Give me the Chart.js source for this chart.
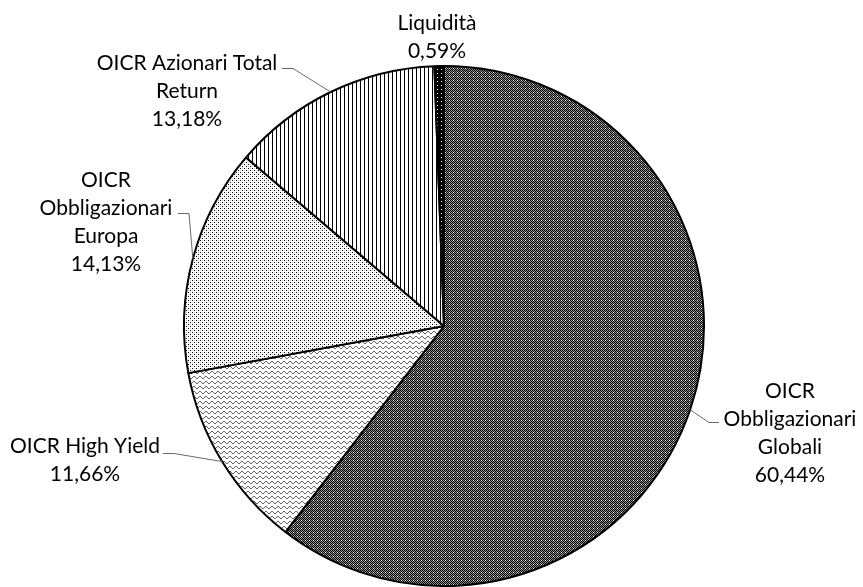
<!DOCTYPE html>
<html>
<head>
<meta charset="utf-8">
<script src="https://cdn.jsdelivr.net/npm/chart.js@4.4.1/dist/chart.umd.min.js"></script>
<style>
  body { margin: 0; background: #fff; }
  #wrap { width: 863px; height: 587px; }
</style>
</head>
<body>
<div id="wrap"><canvas id="myChart" width="863" height="587"></canvas></div>
<script>
// data, clockwise from 12 o'clock
const categories = ['OICR Obbligazionari Globali', 'OICR High Yield', 'OICR Obbligazionari Europa', 'OICR Azionari Total Return', 'Liquidità'];
const values = [60.44, 11.66, 14.13, 13.18, 0.59];
const labelLines = [
  ['OICR', 'Obbligazionari', 'Globali'],
  ['OICR High Yield'],
  ['OICR', 'Obbligazionari', 'Europa'],
  ['OICR Azionari Total', 'Return'],
  ['Liquidità']
];

// where each label block sits and where its leader stub is
const labelPos = [
  { x: 790, y: 391, stub: [719, 709, 422] },
  { x: 85, y: 446, stub: [163, 174, 453] },
  { x: 106, y: 180, stub: [178, 189, 213] },
  { x: 187, y: 63, stub: [282, 293, 68] },
  { x: 437, y: 23, stub: null }
];
const lineH = 28;

function makePattern(w, h, draw) {
  const c = document.createElement('canvas');
  c.width = w; c.height = h;
  const g = c.getContext('2d');
  g.fillStyle = '#fff';
  g.fillRect(0, 0, w, h);
  draw(g);
  return g.createPattern(c, 'repeat');
}
function px(g, col, pts) {
  g.fillStyle = col;
  pts.forEach(p => g.fillRect(p[0], p[1], 1, 1));
}

const patDark = makePattern(4, 4, g => {
  g.fillStyle = '#8c8c8c'; g.fillRect(0, 0, 4, 4);
  px(g, '#000', [[0,0],[2,0],[1,1],[3,1],[0,2],[2,2],[1,3],[3,3]]);
  px(g, '#fff', [[1,0]]);
});
const patWave = makePattern(6, 5, g => {
  px(g, '#666', [[0,2],[1,1],[2,1],[3,2],[4,3],[5,3]]);
});
const patDots = makePattern(4, 4, g => {
  px(g, '#000', [[0,0],[2,2]]);
  px(g, '#d0d0d0', [[2,0],[0,2]]);
});
const patLines = makePattern(4, 1, g => {
  px(g, '#000', [[0,0]]);
});
const patBlack = makePattern(4, 4, g => {
  g.fillStyle = '#000'; g.fillRect(0, 0, 4, 4);
  px(g, '#fff', [[1,1]]);
});

const labelPlugin = {
  id: 'pieLabels',
  afterDatasetsDraw(chart) {
    const ctx = chart.ctx;
    const arcs = chart.getDatasetMeta(0).data;
    ctx.save();
    ctx.font = '21px Lato';
    ctx.fillStyle = '#000';
    ctx.textAlign = 'center';
    ctx.textBaseline = 'middle';
    arcs.forEach((arc, i) => {
      const p = labelPos[i];
      const lines = labelLines[i].concat([values[i].toFixed(2).replace('.', ',') + '%']);
      lines.forEach((t, k) => ctx.fillText(t, p.x, p.y + k * lineH));
      if (p.stub) {
        const a = arc.getProps(['x', 'y', 'startAngle', 'endAngle', 'outerRadius'], true);
        const mid = (a.startAngle + a.endAngle) / 2;
        const ex = a.x + Math.cos(mid) * a.outerRadius;
        const ey = a.y + Math.sin(mid) * a.outerRadius;
        ctx.strokeStyle = '#6a6a6a';
        ctx.lineWidth = 1;
        ctx.beginPath();
        ctx.moveTo(p.stub[0], p.stub[2] + 0.5);
        ctx.lineTo(p.stub[1], p.stub[2] + 0.5);
        ctx.lineTo(ex, ey);
        ctx.stroke();
      }
    });
    ctx.restore();
  }
};

new Chart(document.getElementById('myChart'), {
  type: 'pie',
  data: {
    labels: categories,
    datasets: [{
      data: values,
      backgroundColor: [patDark, patWave, patDots, patLines, patBlack],
      borderColor: '#000',
      borderWidth: 2
    }]
  },
  options: {
    responsive: false,
    animation: false,
    layout: { padding: { left: 25, top: 65, right: 0, bottom: 0 } },
    plugins: {
      legend: { display: false },
      tooltip: { enabled: false }
    }
  },
  plugins: [labelPlugin]
});
</script>
</body>
</html>
